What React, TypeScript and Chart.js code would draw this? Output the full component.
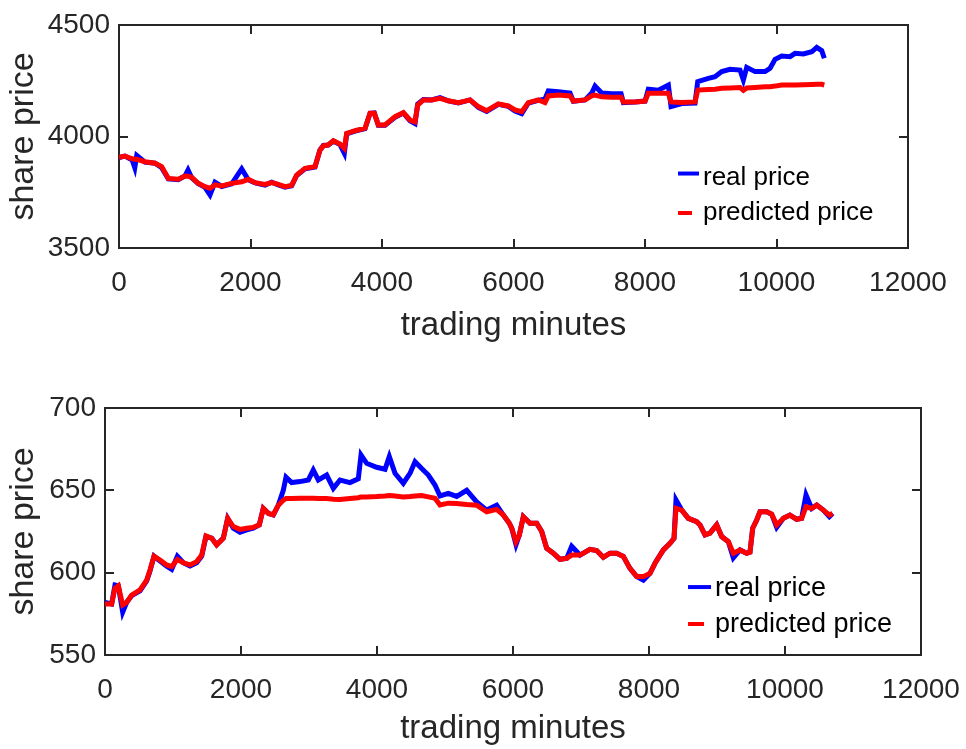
import { useEffect, useRef } from "react";
import { Chart, registerables } from "chart.js";

Chart.register(...registerables);

// ---------- data ----------
const seriesLabels = ["real price", "predicted price"];
const seriesColors = ["#0000FF", "#FF0000"];

const xTickValues = [0, 2000, 4000, 6000, 8000, 10000, 12000];
const topYTickValues = [3500, 4000, 4500];
const bottomYTickValues = [550, 600, 650, 700];

const topMinutes = [0, 90, 200, 240, 270, 395, 548, 649, 750, 902, 1004, 1050, 1105, 1206, 1308, 1384, 1460, 1562, 1714, 1866, 1967, 2069, 2221, 2322, 2423, 2525, 2626, 2702, 2829, 2981, 3057, 3108, 3183, 3260, 3361, 3427, 3463, 3590, 3742, 3818, 3883, 3944, 4046, 4198, 4325, 4426, 4502, 4543, 4629, 4756, 4882, 5009, 5161, 5339, 5465, 5592, 5769, 5921, 6023, 6125, 6226, 6378, 6479, 6530, 6682, 6860, 6910, 7088, 7190, 7240, 7342, 7494, 7636, 7671, 7849, 8001, 8051, 8203, 8355, 8396, 8558, 8761, 8802, 8964, 9065, 9167, 9293, 9445, 9496, 9547, 9674, 9826, 9902, 9978, 10079, 10206, 10282, 10409, 10536, 10612, 10688, 10727];
const topReal = [3905, 3912, 3895, 3860, 3915, 3885, 3880, 3860, 3810, 3806, 3823, 3850, 3815, 3788, 3772, 3738, 3795, 3776, 3788, 3855, 3806, 3792, 3782, 3795, 3783, 3773, 3779, 3825, 3855, 3863, 3940, 3960, 3962, 3980, 3964, 3925, 4012, 4024, 4035, 4104, 4106, 4050, 4050, 4086, 4105, 4070, 4058, 4145, 4166, 4164, 4174, 4160, 4150, 4164, 4130, 4112, 4144, 4135, 4114, 4102, 4150, 4162, 4168, 4205, 4201, 4195, 4158, 4164, 4195, 4226, 4195, 4192, 4192, 4152, 4155, 4159, 4212, 4208, 4231, 4134, 4148, 4150, 4246, 4261, 4268, 4291, 4301, 4298, 4253, 4310, 4291, 4291, 4306, 4346, 4361, 4358, 4373, 4370, 4380, 4400, 4385, 4351];
const topPredicted = [3907, 3912, 3900, 3898, 3898, 3887, 3880, 3865, 3812, 3808, 3823, 3822, 3817, 3790, 3775, 3768, 3783, 3778, 3790, 3797, 3808, 3793, 3785, 3793, 3785, 3775, 3781, 3827, 3857, 3865, 3939, 3958, 3962, 3981, 3966, 3947, 4014, 4026, 4037, 4104, 4104, 4052, 4052, 4089, 4107, 4074, 4066, 4141, 4164, 4164, 4171, 4160, 4152, 4164, 4134, 4116, 4146, 4137, 4119, 4111, 4152, 4164, 4152, 4182, 4186, 4182, 4159, 4164, 4182, 4186, 4178, 4176, 4176, 4155, 4155, 4159, 4194, 4194, 4194, 4155, 4152, 4155, 4208, 4211, 4212, 4216, 4218, 4220, 4207, 4218, 4220, 4223, 4223, 4226, 4231, 4231, 4231, 4232, 4233, 4234, 4234, 4231];

const bottomMinutes = [0, 98, 147, 196, 260, 319, 392, 515, 613, 662, 721, 809, 907, 981, 1064, 1152, 1250, 1348, 1422, 1485, 1569, 1642, 1740, 1804, 1887, 1985, 2083, 2181, 2269, 2328, 2402, 2475, 2549, 2622, 2662, 2745, 2868, 2990, 3063, 3137, 3260, 3358, 3456, 3603, 3725, 3765, 3848, 3995, 4118, 4181, 4265, 4387, 4485, 4559, 4657, 4755, 4853, 4926, 5049, 5172, 5319, 5466, 5613, 5760, 5858, 5946, 5981, 6044, 6093, 6152, 6250, 6348, 6422, 6495, 6593, 6691, 6789, 6863, 6985, 7132, 7230, 7328, 7426, 7524, 7622, 7720, 7819, 7917, 8015, 8088, 8211, 8309, 8368, 8397, 8481, 8578, 8701, 8750, 8824, 8897, 8995, 9069, 9167, 9240, 9338, 9436, 9485, 9525, 9584, 9632, 9731, 9804, 9878, 9976, 10073, 10172, 10245, 10309, 10393, 10466, 10564, 10652, 10701];
const bottomReal = [582, 581, 592.5, 592, 576, 582, 586, 589, 595, 601, 610, 607, 604, 602, 610, 606, 604, 606, 610, 622, 621, 617, 621, 633, 627, 624.5, 626, 627, 629, 639, 636, 635, 641, 650, 658, 654.7, 655.3, 656.3, 662.3, 656.3, 659.3, 651.2, 656.3, 654.7, 657, 671.5, 666.4, 664, 662.8, 670.5, 660.3, 654.3, 660.3, 667.4, 663.2, 659.3, 653.2, 646.6, 648.2, 646.3, 650, 643, 638, 641, 635, 630, 627, 617, 622.8, 634, 630, 630, 625, 614.8, 611.8, 608.1, 608.7, 616, 610.7, 614.2, 613.4, 609.3, 611.8, 611.8, 609.9, 602.6, 597.6, 595.5, 599.6, 605.7, 613.8, 617.8, 620.8, 644.1, 638, 633, 631, 629, 622.9, 624, 629, 621.9, 618.8, 609, 613.8, 611.8, 612.5, 627, 632, 637, 637, 635.5, 627.5, 633, 635, 632.4, 633, 647.2, 639, 641.1, 638, 634, 636];
const bottomPredicted = [581, 581, 590.5, 592, 580.4, 582, 586.4, 589.5, 595.5, 601.6, 610, 607.7, 604.7, 603.7, 608, 606, 604.7, 606.7, 610.7, 622.3, 620.9, 616.8, 620.9, 633, 628, 626.3, 627, 627.5, 629, 639, 636, 635.2, 641, 644, 645, 645, 645.2, 645.2, 645.2, 645, 645, 644.6, 644.4, 645, 645.5, 646, 646, 646.2, 646.5, 646.8, 646.5, 646, 646.2, 646.6, 646.8, 646, 645.2, 641.1, 642.2, 642, 641.4, 641, 637, 638.4, 635, 630, 627, 618.8, 622.8, 634, 630, 630, 625, 614.8, 611.8, 608.1, 608.7, 610.7, 610.7, 614.2, 613.4, 609.3, 611.8, 611.8, 609.9, 602.6, 597.6, 597.6, 599.6, 605.7, 613.8, 617.8, 620.8, 639.1, 638, 633, 631, 629, 622.9, 624, 629, 621.9, 618.8, 611.8, 613.8, 611.8, 612.5, 627, 632, 637, 637, 635.5, 629, 633, 635, 632.4, 633, 640, 639, 641.1, 638, 635, 636];

// ---------- helpers ----------
const FONT = '"Liberation Sans", Arial, Helvetica, sans-serif';
const AXIS = "#262626";

const legendPlugin = {
  id: "boxLegend",
  afterDatasetsDraw(chart: any, _args: any, opts: any) {
    const { ctx, chartArea } = chart;
    const w = chartArea.right - chartArea.left;
    const h = chartArea.bottom - chartArea.top;
    const x0 = chartArea.left + opts.x * w;
    ctx.save();
    ctx.font = `${opts.fontSize}px ${FONT}`;
    ctx.textBaseline = "middle";
    ctx.textAlign = "left";
    seriesLabels.forEach((label, i) => {
      const y = chartArea.top + opts.rows[i] * h;
      ctx.strokeStyle = seriesColors[i];
      ctx.lineWidth = 4;
      ctx.lineCap = "butt";
      ctx.beginPath();
      ctx.moveTo(x0, y + opts.lineDy[i]);
      ctx.lineTo(x0 + opts.lineLen[i], y + opts.lineDy[i]);
      ctx.stroke();
      ctx.fillStyle = "#000";
      ctx.fillText(label, x0 + opts.textGap, y);
    });
    ctx.restore();
  },
};

function pts(xs: number[], ys: number[]) {
  return xs.map((x, i) => ({ x, y: ys[i] }));
}

function setTicks(values: number[]) {
  return (scale: any) => {
    scale.ticks = values.map((v) => ({ value: v }));
  };
}

function noPad(scale: any) {
  scale.paddingLeft = 0;
  scale.paddingRight = 0;
  scale.paddingTop = 0;
  scale.paddingBottom = 0;
}

interface Cfg {
  minutes: number[];
  real: number[];
  pred: number[];
  yTicks: number[];
  padTop: number;
  padRight: number;
  yWidth: number;
  xHeight: number;
  xTitlePad: number;
  legend: any;
}

function makeConfig(c: Cfg): any {
  const yMin = c.yTicks[0];
  const yMax = c.yTicks[c.yTicks.length - 1];
  const grid = {
    drawOnChartArea: false,
    drawTicks: true,
    tickLength: -9,
    color: AXIS,
    lineWidth: 2,
    tickColor: AXIS,
  };
  const border = { display: true, color: AXIS, width: 2 };
  const tickFont = { family: FONT, size: 28 };
  return {
    type: "line",
    data: {
      datasets: [
        {
          label: seriesLabels[0],
          data: pts(c.minutes, c.real),
          borderColor: seriesColors[0],
          backgroundColor: seriesColors[0],
          borderWidth: 5,
          pointRadius: 0,
          tension: 0,
          order: 1,
        },
        {
          label: seriesLabels[1],
          data: pts(c.minutes, c.pred),
          borderColor: seriesColors[1],
          backgroundColor: seriesColors[1],
          borderWidth: 5,
          pointRadius: 0,
          tension: 0,
          order: 0,
        },
      ],
    },
    options: {
      animation: false,
      responsive: false,
      events: [],
      layout: { padding: { left: 0, top: c.padTop, right: c.padRight, bottom: 0 } },
      plugins: {
        legend: { display: false },
        tooltip: { enabled: false },
        boxLegend: c.legend,
      },
      scales: {
        x: {
          type: "linear",
          position: "bottom",
          min: 0,
          max: 12000,
          afterBuildTicks: setTicks(xTickValues),
          afterFit: (s: any) => {
            s.height = c.xHeight;
            noPad(s);
          },
          grid,
          border,
          ticks: {
            color: AXIS,
            font: tickFont,
            padding: 27,
            maxRotation: 0,
            autoSkip: false,
            callback: (v: any) => String(v),
          },
          title: {
            display: true,
            text: "trading minutes",
            color: AXIS,
            font: { family: FONT, size: 33 },
            padding: { top: 0, bottom: c.xTitlePad },
          },
        },
        x2: {
          type: "linear",
          position: "top",
          min: 0,
          max: 12000,
          afterBuildTicks: setTicks(xTickValues),
          afterFit: (s: any) => {
            s.height = 0;
            noPad(s);
          },
          grid,
          border,
          ticks: { display: false },
        },
        y: {
          type: "linear",
          position: "left",
          min: yMin,
          max: yMax,
          afterBuildTicks: setTicks(c.yTicks),
          afterFit: (s: any) => {
            s.width = c.yWidth;
            noPad(s);
          },
          grid,
          border,
          ticks: {
            color: AXIS,
            font: tickFont,
            padding: 18,
            autoSkip: false,
            callback: (v: any) => String(v),
          },
          title: {
            display: true,
            text: "share price",
            color: AXIS,
            font: { family: FONT, size: 34 },
            padding: { top: 3, bottom: 0 },
          },
        },
        y2: {
          type: "linear",
          position: "right",
          min: yMin,
          max: yMax,
          afterBuildTicks: setTicks(c.yTicks),
          afterFit: (s: any) => {
            s.width = 0;
            noPad(s);
          },
          grid,
          border,
          ticks: { display: false },
        },
      },
    },
    plugins: [legendPlugin],
  };
}

function PriceChart(props: { cfg: Cfg; width: number; height: number; top: number }) {
  const ref = useRef<HTMLCanvasElement | null>(null);
  useEffect(() => {
    if (!ref.current) return;
    const chart = new Chart(ref.current, makeConfig(props.cfg));
    return () => chart.destroy();
  }, []);
  return (
    <canvas
      ref={ref}
      width={props.width}
      height={props.height}
      style={{ position: "absolute", left: 0, top: props.top, width: props.width, height: props.height, display: "block" }}
    />
  );
}

const topCfg: Cfg = {
  minutes: topMinutes,
  real: topReal,
  pred: topPredicted,
  yTicks: topYTickValues,
  padTop: 25,
  padRight: 58,
  yWidth: 119,
  xHeight: 122,
  xTitlePad: 24,
  legend: { x: 0.7085, rows: [0.684, 0.843], lineDy: [-4, 0], lineLen: [21, 14], textGap: 25, fontSize: 26 },
};

const bottomCfg: Cfg = {
  minutes: bottomMinutes,
  real: bottomReal,
  pred: bottomPredicted,
  yTicks: bottomYTickValues,
  padTop: 38,
  padRight: 45,
  yWidth: 105,
  xHeight: 94,
  xTitlePad: 0,
  legend: { x: 0.7145, rows: [0.729, 0.8785], lineDy: [-1, -1], lineLen: [23, 16], textGap: 27, fontSize: 27 },
};

export default function App() {
  return (
    <div style={{ position: "absolute", left: 0, top: 0, width: 966, height: 749, background: "#fff", overflow: "hidden" }}>
      <PriceChart cfg={topCfg} width={966} height={370} top={0} />
      <PriceChart cfg={bottomCfg} width={966} height={379} top={370} />
    </div>
  );
}
